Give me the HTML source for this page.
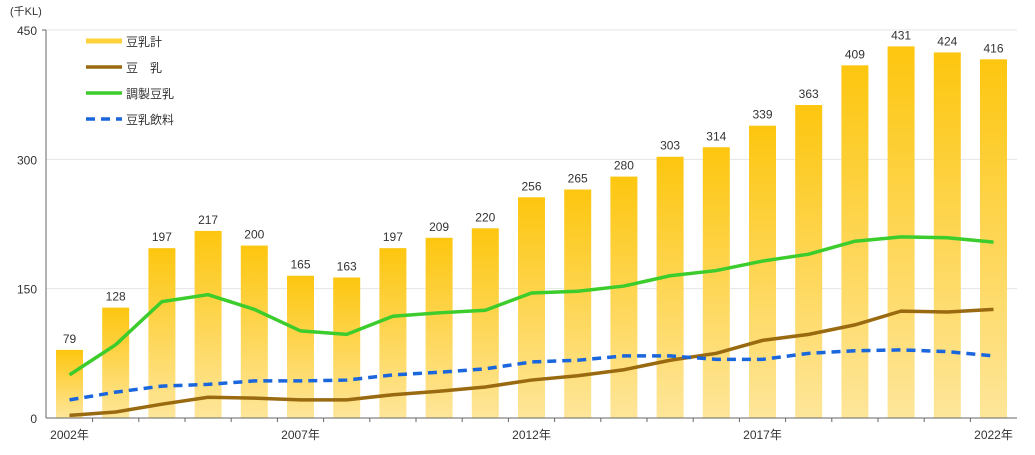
<!DOCTYPE html>
<html><head><meta charset="utf-8"><style>
body{margin:0;background:#fff;width:1035px;height:450px;overflow:hidden}
text{font-family:"Liberation Sans","Noto Sans CJK JP",sans-serif;fill:#333}
</style></head><body>
<svg id="c" width="1035" height="450">
<defs><linearGradient id="g" x1="0" y1="0" x2="0" y2="1"><stop offset="0" stop-color="#fdc60f"/><stop offset="1" stop-color="#fee69a"/></linearGradient></defs>
</svg>
<script>
const years=[2002,2003,2004,2005,2006,2007,2008,2009,2010,2011,2012,2013,2014,2015,2016,2017,2018,2019,2020,2021,2022];
const total=[79,128,197,217,200,165,163,197,209,220,256,265,280,303,314,339,363,409,431,424,416];
const tonyu=[3,7,16,24,23,21,21,27,31,36,44,49,56,67,75,90,97,108,124,123,126];
const chosei=[50,85,135,143,126,101,97,118,122,125,145,147,153,165,171,182,190,205,210,209,204];
const inryo=[21,30,37,39,43,43,44,50,53,57,65,67,72,72,68,68,75,78,79,77,72];
const yTicks=[0,150,300,450];
const xLabels={2002:"2002年",2007:"2007年",2012:"2012年",2017:"2017年",2022:"2022年"};
const svg=document.getElementById('c');const NS='http://www.w3.org/2000/svg';
const y=v=>418-v*388/450;const x=i=>69.5+i*46.2;
function mk(t,a,p){const e=document.createElementNS(NS,t);for(const k in a)e.setAttribute(k,a[k]);(p||svg).appendChild(e);return e;}
yTicks.forEach(v=>{
 if(v>0){const l=mk('line',{x1:46,x2:1017,y1:y(v),y2:y(v),stroke:'#e4e4e4'});
 
 }
 const t=mk('text',{x:37,y:y(v)+5,'text-anchor':'end','font-size':12});t.textContent=v;
 
 
});
const u=mk('text',{x:10,y:15,'font-size':11});u.textContent='(千KL)';


years.forEach((yr,i)=>{
 const b=mk('rect',{x:x(i)-13.5,y:y(total[i]),width:27,height:418-y(total[i]),fill:'url(#g)'});
 
 
 const t=mk('text',{x:x(i),y:y(total[i])-7,'text-anchor':'middle','font-size':12});t.textContent=total[i];
 
 
 if(i>0)mk('line',{x1:x(i)-23.1,x2:x(i)-23.1,y1:418,y2:422,stroke:'#666'});
 if(xLabels[yr]){const l=mk('text',{x:x(i),y:439,'text-anchor':'middle','font-size':12});l.textContent=xLabels[yr];
 
 }
});
function line(d,c,dash,name){const p=mk('polyline',{points:d.map((v,i)=>x(i)+','+y(v)).join(' '),fill:'none',stroke:c,'stroke-width':3.5,'stroke-dasharray':dash||'none'});
 
 }
line(tonyu,'#9a6a10','','line-tonyu');
line(inryo,'#1a66dd','9,6','line-tonyu-inryo');
line(chosei,'#3ccc2c','','line-chosei-tonyu');
mk('line',{x1:46,x2:46,y1:30,y2:418,stroke:'#666'});
mk('line',{x1:46,x2:1017,y1:418,y2:418,stroke:'#666'});
mk('line',{x1:42,x2:46,y1:30,y2:30,stroke:'#666'});
mk('line',{x1:190,x2:1017,y1:30,y2:30,stroke:'#e4e4e4'});
const leg=[['豆乳計','#fdd23a','',5],['豆　乳','#9a6a10','',3.5],['調製豆乳','#3ccc2c','',3.5],['豆乳飲料','#1a66dd','9,6',3.5]];
const lg=mk('g',{});
leg.forEach((e,i)=>{const yy=41+i*26;
 mk('line',{x1:86,x2:122,y1:yy,y2:yy,stroke:e[1],'stroke-width':e[3],'stroke-dasharray':e[2]||'none'},lg);
 const t=mk('text',{x:126,y:yy+5,'font-size':12},lg);t.textContent=e[0];
 
 });
</script>
</body></html>
